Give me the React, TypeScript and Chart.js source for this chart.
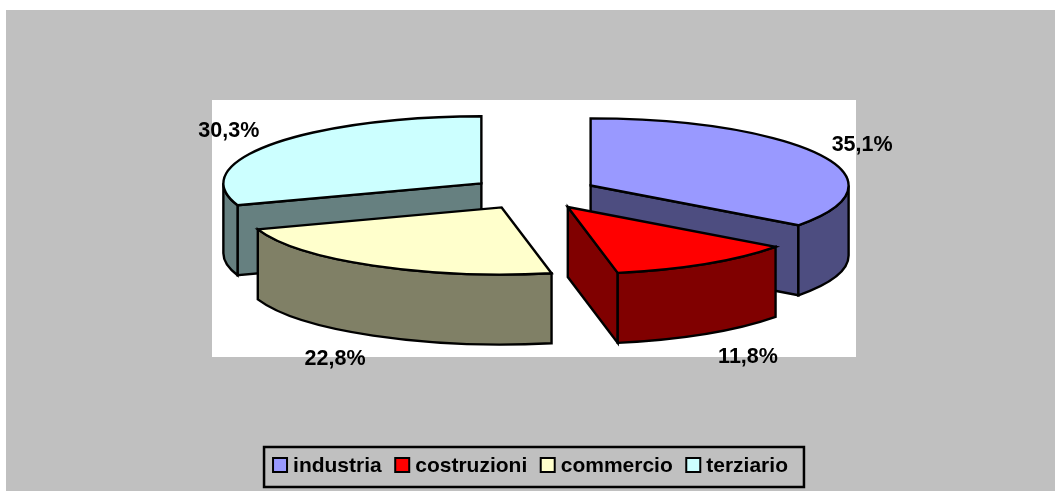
import React, { useEffect, useRef } from "react";
import { Chart, registerables } from "chart.js";

Chart.register(...registerables);

const categories = ["industria", "costruzioni", "commercio", "terziario"];
const shares = [35.1, 11.8, 22.8, 30.3];
const topColors = ["#9999FF", "#FF0000", "#FFFFCC", "#CCFFFF"];
const sideColors = ["#4D4D80", "#800000", "#808066", "#668080"];

const TILT = 0.26;
const DEPTH = 70;
const FONT = 'bold 21px "Liberation Sans", Arial, sans-serif';
const VALUE_FONT = 'bold 21.5px "Liberation Sans", Arial, sans-serif';

function slicePath(ctx: CanvasRenderingContext2D, arc: any) {
  const R = arc.outerRadius;
  const mid = (arc.startAngle + arc.endAngle) / 2;
  const off = arc.options.offset;
  const cx = arc.x + Math.cos(mid) * off - 0.5;
  const cy = arc.y - DEPTH / 2 + Math.sin(mid) * off * TILT - 0.5;
  return { R, mid, cx, cy };
}

const pie3d = {
  id: "pie3d",
  beforeDraw(chart: any) {
    const { ctx, chartArea: a, width, height } = chart;
    ctx.save();
    ctx.fillStyle = "#FFFFFF";
    ctx.fillRect(0, 0, width, height);
    ctx.fillStyle = "#C0C0C0";
    ctx.fillRect(6, 10, width - 6, height - 10);
    ctx.fillStyle = "#FFFFFF";
    ctx.fillRect(a.left, a.top, a.right - a.left, a.bottom - a.top);
    ctx.restore();
  },
  beforeDatasetsDraw(chart: any) {
    const ctx: CanvasRenderingContext2D = chart.ctx;
    const arcs = chart.getDatasetMeta(0).data.map((arc: any, i: number) => ({ arc, i }));
    const order = arcs.slice().sort((p: any, q: any) => slicePath(ctx, p.arc).cy - slicePath(ctx, q.arc).cy);
    ctx.save();
    ctx.lineWidth = 2.4;
    ctx.strokeStyle = "#000000";
    ctx.lineJoin = "miter";
    for (const { arc, i } of order) {
      const { R, cx, cy } = slicePath(ctx, arc);
      const ry = R * TILT;
      const a0 = arc.startAngle;
      const a1 = arc.endAngle;
      const face = (ang: number) => {
        const ex = cx + Math.cos(ang) * R;
        const ey = cy + Math.sin(ang) * ry;
        ctx.beginPath();
        ctx.moveTo(cx, cy);
        ctx.lineTo(ex, ey);
        ctx.lineTo(ex, ey + DEPTH);
        ctx.lineTo(cx, cy + DEPTH);
        ctx.closePath();
        ctx.fillStyle = sideColors[i];
        ctx.fill();
        ctx.stroke();
      };
      // radial walls that face the viewer
      if (Math.sin(a0 + Math.PI / 2) < 0) face(a0);
      if (Math.sin(a1 + Math.PI / 2) > 0) face(a1);
      // outer rim, front half only
      const w0 = Math.max(a0, 0);
      const w1 = Math.min(a1, Math.PI);
      if (w1 > w0) {
        ctx.beginPath();
        ctx.ellipse(cx, cy, R, ry, 0, w0, w1);
        ctx.ellipse(cx, cy + DEPTH, R, ry, 0, w1, w0, true);
        ctx.closePath();
        ctx.fillStyle = sideColors[i];
        ctx.fill();
        ctx.stroke();
      }
      // top face
      ctx.beginPath();
      ctx.moveTo(cx, cy);
      ctx.ellipse(cx, cy, R, ry, 0, a0, a1);
      ctx.closePath();
      ctx.fillStyle = topColors[i];
      ctx.fill();
      ctx.stroke();
    }
    ctx.restore();
    return false;
  },
  afterDraw(chart: any) {
    const ctx: CanvasRenderingContext2D = chart.ctx;
    ctx.save();
    ctx.fillStyle = "#000000";
    ctx.textBaseline = "middle";
    // percentage labels
    ctx.font = VALUE_FONT;
    ctx.textAlign = "center";
    chart.getDatasetMeta(0).data.forEach((arc: any, i: number) => {
      const { R, mid, cx, cy } = slicePath(ctx, arc);
      const lower = Math.sin(mid) > 0;
      const lx = cx + Math.cos(mid) * R * (lower ? 1.3 : 1.19) + (lower ? 0.5 : -2.5);
      const ly = cy + Math.sin(mid) * R * TILT * 1.38 + (lower ? DEPTH : 0) + 1.5;
      ctx.fillText(shares[i].toFixed(1).replace(".", ",") + "%", lx, ly);
    });
    // legend
    ctx.font = FONT;
    ctx.textAlign = "left";
    const labels: string[] = chart.data.labels;
    const widths = labels.map((t) => ctx.measureText(t).width);
    const total = widths.reduce((s, w) => s + w + 21, 0) + 12.5 * (labels.length - 1) + 8 + 16;
    const a = chart.chartArea;
    const left = (a.left + a.right) / 2 - total / 2;
    const top = 447;
    const h = 40;
    ctx.strokeStyle = "#000000";
    ctx.lineWidth = 2.5;
    ctx.strokeRect(left, top, total, h);
    let x = left + 8;
    const midY = top + 18;
    labels.forEach((t, i) => {
      ctx.fillStyle = topColors[i];
      ctx.lineWidth = 2;
      ctx.fillRect(x + 1, midY - 7, 14, 14);
      ctx.strokeRect(x + 1, midY - 7, 14, 14);
      ctx.fillStyle = "#000000";
      ctx.fillText(t, x + 21, midY + 1);
      x += 21 + widths[i] + 12.5;
    });
    ctx.restore();
  },
};

export default function App() {
  const ref = useRef<HTMLCanvasElement>(null);
  useEffect(() => {
    document.body.style.margin = "0";
    const chart = new Chart(ref.current!, {
      type: "pie",
      data: {
        labels: categories,
        datasets: [{ data: shares, backgroundColor: topColors, radius: 258, offset: 64, borderWidth: 2, borderColor: "#000" }],
      },
      options: {
        responsive: false,
        animation: false,
        layout: { padding: { left: 212, top: 100, right: 199, bottom: 134 } },
        plugins: { legend: { display: false }, tooltip: { enabled: false } },
      },
      plugins: [pie3d],
    } as any);
    return () => chart.destroy();
  }, []);
  return <canvas ref={ref} width={1055} height={491} style={{ display: "block" }} />;
}
